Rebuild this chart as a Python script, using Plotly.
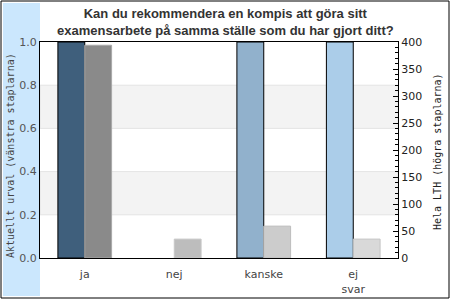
import plotly.graph_objects as go

categories = ["ja", "nej", "kanske", "ej<br>svar"]
urval_values = [1.0, 0.0, 1.0, 1.0]
lth_values = [394, 35, 59, 35]
urval_colors = ["#3f5f7c", "#3f5f7c", "#91b1cc", "#abcde9"]
lth_colors = ["#8a8a8a", "#bdbdbd", "#cccccc", "#d9d9d9"]
lth_line_colors = ["#a8a8a8", "#c8c8c8", "#bdbdbd", "#c4c4c4"]
left_ticks = [0.0, 0.2, 0.4, 0.6, 0.8, 1.0]
right_ticks = [0, 50, 100, 150, 200, 250, 300, 350, 400]

L, R, T, B = 40, 398, 42, 258
W, H = 450, 300
pw, ph = R - L, B - T


def px(x):
    return (x - L) / pw


def py(y):
    return (B - y) / ph


fig = go.Figure()
fig.add_trace(go.Bar(
    x=categories, y=urval_values, yaxis="y", offsetgroup="a",
    marker=dict(color=urval_colors,
                line=dict(color="black", width=[1 if v > 0 else 0 for v in urval_values])),
    width=0.3, showlegend=False, hoverinfo="skip"))
fig.add_trace(go.Bar(
    x=categories, y=lth_values, yaxis="y2", offsetgroup="b",
    marker=dict(color=lth_colors, line=dict(color=lth_line_colors, width=1)),
    width=0.3, showlegend=False, hoverinfo="skip"))

shapes = [
    dict(type="rect", xref="paper", yref="paper", x0=px(3), x1=0, y0=py(296), y1=py(3),
         fillcolor="#cbe7fd", line=dict(width=0), layer="below"),
    dict(type="rect", xref="paper", yref="paper", x0=px(1), x1=px(449), y0=py(298), y1=py(1),
         fillcolor="rgba(0,0,0,0)", line=dict(color="black", width=1), layer="above"),
]
for lo, hi in [(0.2, 0.4), (0.6, 0.8)]:
    shapes.append(dict(type="rect", xref="paper", yref="y", x0=0, x1=1, y0=lo, y1=hi,
                       fillcolor="#f3f3f3", line=dict(color="#e4e4e4", width=1), layer="below"))

annotations = [
    dict(text="Aktuellt urval (vänstra staplarna)", textangle=-90, xref="paper", yref="paper",
         x=px(10), y=py(156), showarrow=False, xanchor="center", yanchor="middle",
         font=dict(family="DejaVu Sans Mono", size=10, color="#444")),
    dict(text="Hela LTH (högra staplarna)", textangle=-90, xref="paper", yref="paper",
         x=px(437), y=py(152), showarrow=False, xanchor="center", yanchor="middle",
         font=dict(family="DejaVu Sans Mono", size=10, color="#222")),
    dict(text="<b>Kan du rekommendera en kompis att göra sitt<br>examensarbete på samma ställe som du har gjort ditt?</b>",
         xref="paper", yref="paper", x=px(225), y=py(22), showarrow=False,
         xanchor="center", yanchor="middle",
         font=dict(family="Liberation Sans", size=13, color="#333")),
]

fig.update_layout(
    width=W, height=H,
    margin=dict(l=L, r=W - R, t=T, b=H - B, pad=0, autoexpand=False),
    paper_bgcolor="white", plot_bgcolor="white",
    barmode="group", bargap=0.4, bargroupgap=0,
    shapes=shapes, annotations=annotations,
    xaxis=dict(showline=True, linecolor="black", linewidth=1, mirror=True, ticks="",
               ticklabelstandoff=6, automargin=False,
               tickfont=dict(family="DejaVu Sans", size=11, color="#444"), showgrid=False),
    yaxis=dict(range=[0, 1], tickvals=left_ticks, tickformat=".1f", showgrid=False,
               showline=True, linecolor="black", linewidth=1, ticks="", zeroline=False,
               automargin=False,
               tickfont=dict(family="DejaVu Sans", size=11, color="#555")),
    yaxis2=dict(range=[0, 400], tickvals=right_ticks, overlaying="y", side="right",
                showgrid=False, showline=True, linecolor="black", linewidth=1,
                ticks="inside", ticklen=5, tickcolor="black", zeroline=False,
                automargin=False,
                minor=dict(dtick=10, ticks="inside", ticklen=3, tickcolor="black"),
                tickfont=dict(family="DejaVu Sans", size=11, color="#222")),
)

fig.write_html("out.html", config={"displayModeBar": False},
               post_script="document.body.style.margin='0';")
